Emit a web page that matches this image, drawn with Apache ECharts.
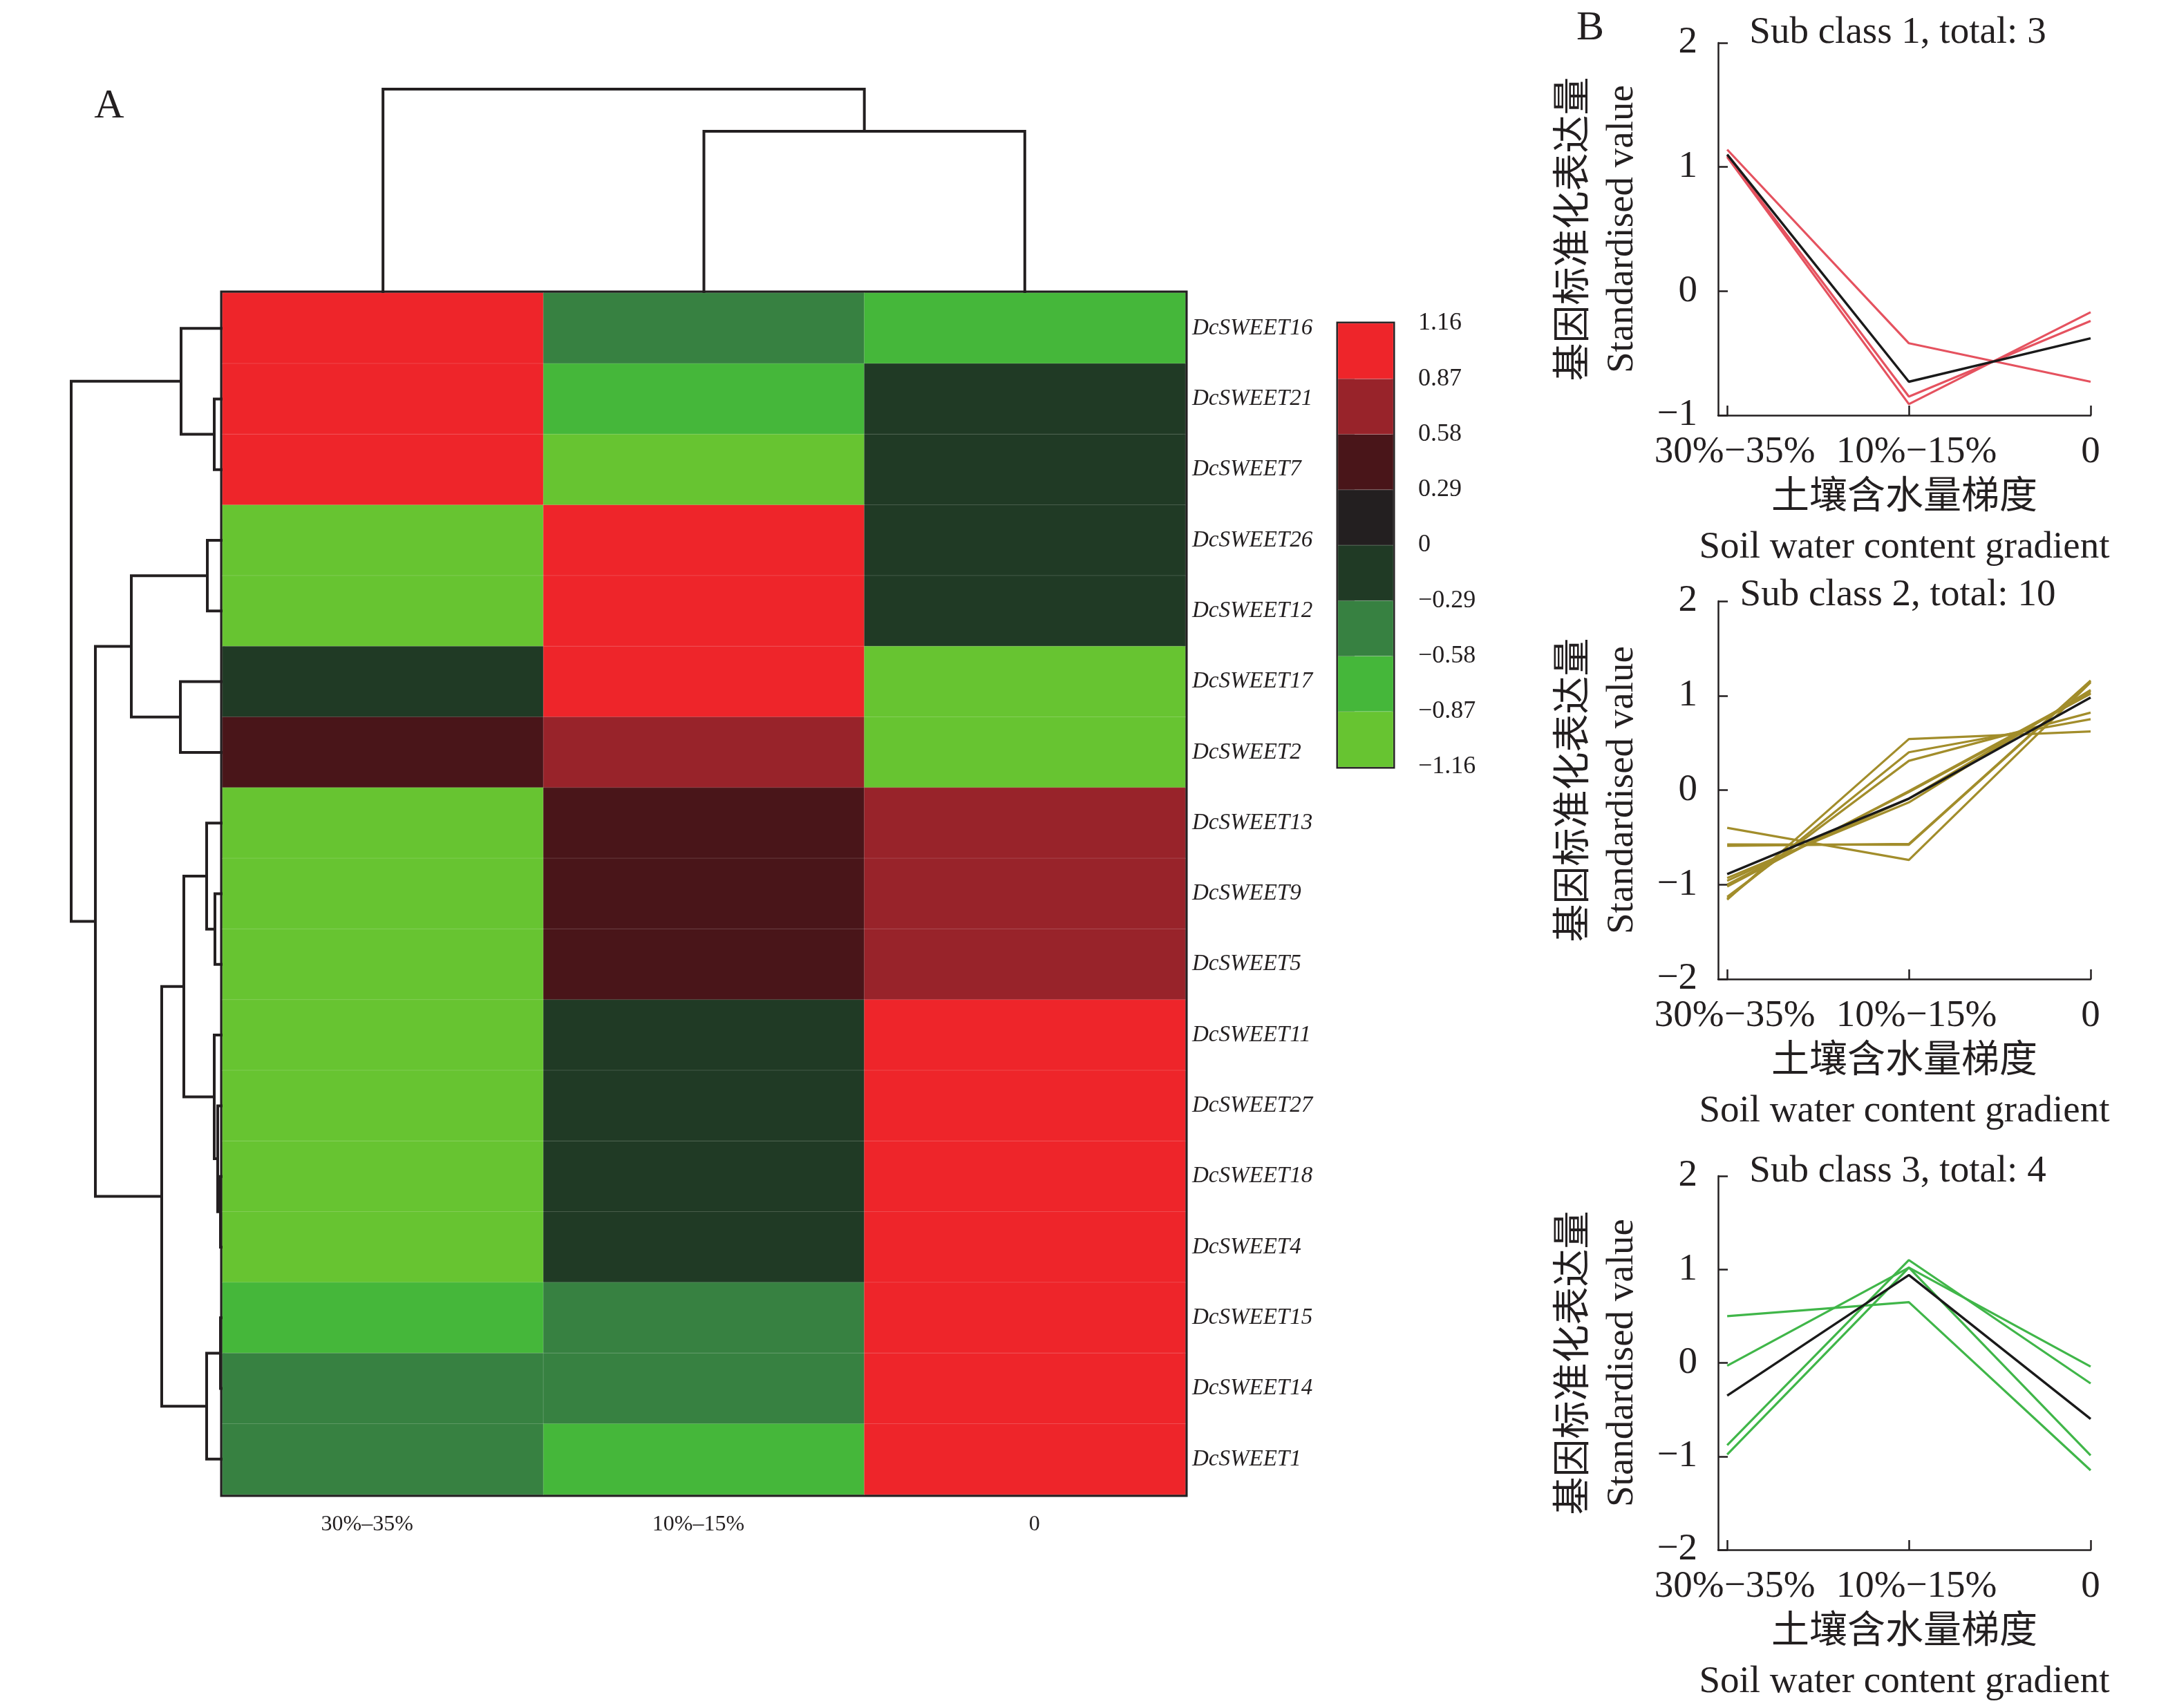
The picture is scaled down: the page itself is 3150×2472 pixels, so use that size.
<!DOCTYPE html>
<html><head><meta charset="utf-8">
<script src="https://cdn.jsdelivr.net/npm/echarts@6/dist/echarts.min.js"></script>
<style>html,body{margin:0;padding:0;background:#fff}#c{width:3150px;height:2472px}</style>
</head><body><div id="c"></div>
<script>
// ---------------- data ----------------
const conditions = ['30%–35%', '10%–15%', '0'];
const lineConditions = ['30%−35%', '10%−15%', '0'];
const genes = ['DcSWEET16','DcSWEET21','DcSWEET7','DcSWEET26','DcSWEET12','DcSWEET17','DcSWEET2',
  'DcSWEET13','DcSWEET9','DcSWEET5','DcSWEET11','DcSWEET27','DcSWEET18','DcSWEET4','DcSWEET15','DcSWEET14','DcSWEET1'];
// standardised expression, one array per soil-water condition (same order as genes)
const val30_35 = [1.14, 1.09, 1.08, -0.98, -0.88, -0.03, 0.50, -1.16, -1.15, -1.13, -1.02, -1.00, -0.96, -0.93, -0.59, -0.575, -0.40];
const val10_15 = [-0.42, -0.85, -0.91, 1.02, 1.10, 1.02, 0.65, 0.54, 0.40, 0.31, -0.01, -0.02, -0.09, -0.13, -0.57, -0.578, -0.74];
const val0     = [-0.73, -0.24, -0.17, -0.04, -0.22, -0.99, -1.15, 0.62, 0.75, 0.82, 1.03, 1.02, 1.05, 1.06, 1.16, 1.153, 1.14];
// gene dendrogram (linkage: [childA, childB, distance]; ids >= 17 are earlier merges)
const rowMerges = [[1,2,12],[0,17,60],[3,4,22],[5,6,61],[19,20,132],[8,9,11],[7,22,23],[12,13,3],
  [11,24,7],[10,25,12],[23,26,56],[14,15,3],[28,16,23],[27,29,88],[21,30,184],[18,31,219]];
// condition dendrogram
const colMerges = [[1,2,234],[0,3,295]];
// colour scale
const breaks = [-1.16, -0.87, -0.58, -0.29, 0, 0.29, 0.58, 0.87, 1.16];
const binColors = ['#67C431','#45B73A','#378141','#203A25','#231F20','#491519','#98232A','#EE252A'];
// sub classes
const sub1Genes = ['DcSWEET16','DcSWEET21','DcSWEET7'];
const sub2Genes = ['DcSWEET13','DcSWEET9','DcSWEET5','DcSWEET11','DcSWEET27','DcSWEET18','DcSWEET4','DcSWEET15','DcSWEET14','DcSWEET1'];
const sub3Genes = ['DcSWEET26','DcSWEET12','DcSWEET17','DcSWEET2'];
const sub1Mean = [1.10, -0.73, -0.38];
const sub2Mean = [-0.89, -0.09, 0.98];
const sub3Mean = [-0.35, 0.94, -0.60];
const subTitles = ['Sub class 1, total: 3', 'Sub class 2, total: 10', 'Sub class 3, total: 4'];

// ---------------- styles ----------------
const INK = '#231F20';
const SERIF = "'Liberation Serif','Times New Roman','Noto Sans CJK SC',serif";
const subColors = ['#E5525F', '#A28D2B', '#40B649'];

function dendroNodes(merges, nLeaves) {
  const nodes = [];
  for (let i = 0; i < nLeaves; i++) nodes.push({p: i + 0.5, h: 0});
  merges.forEach(m => nodes.push({p: (nodes[m[0]].p + nodes[m[1]].p) / 2, h: m[2]}));
  return nodes;
}
const rowNodes = dendroNodes(rowMerges, genes.length);
const colNodes = dendroNodes(colMerges, conditions.length);

function dendroSeries(merges, nodes, xi, yi, horizontal) {
  return {
    type: 'custom', xAxisIndex: xi, yAxisIndex: yi, silent: true, clip: false,
    data: merges.map((m, i) => [i, m[2]]),
    renderItem: function (params, api) {
      const m = merges[params.dataIndex];
      const a = nodes[m[0]], b = nodes[m[1]];
      const pt = horizontal ? (h, p) => api.coord([h, p]) : (h, p) => api.coord([p, h]);
      return {
        type: 'polyline',
        shape: {points: [pt(a.h, a.p), pt(m[2], a.p), pt(m[2], b.p), pt(b.h, b.p)]},
        style: {stroke: INK, lineWidth: 4, fill: null}
      };
    }
  };
}

const heatData = [];
genes.forEach((g, r) => {
  heatData.push([0, r, val30_35[r]]);
  heatData.push([1, r, val10_15[r]]);
  heatData.push([2, r, val0[r]]);
});

const pieces = binColors.map((c, i) => {
  const p = {color: c};
  if (i > 0) p.gte = breaks[i];
  if (i < binColors.length - 1) p.lt = breaks[i + 1];
  return p;
});

function fmtMinus(v) { return String(v).replace('-', '−'); }

const bGrids = [
  {left: 2486, top: 62, width: 539, height: 539},
  {left: 2486, top: 870, width: 539, height: 547},
  {left: 2486, top: 1702, width: 539, height: 551}
];
const bYMin = [-1, -2, -2];
const subGeneLists = [sub1Genes, sub2Genes, sub3Genes];
const subMeans = [sub1Mean, sub2Mean, sub3Mean];

const grids = [
  {left: 322, top: 424, width: 1393, height: 1739, show: true, borderColor: INK, borderWidth: 7, backgroundColor: 'transparent'},
  {left: 103, top: 424, width: 219, height: 1739},
  {left: 322, top: 129, width: 1393, height: 295},
  {left: 1936, top: 468, width: 80, height: 642, show: true, borderColor: INK, borderWidth: 5, backgroundColor: 'transparent'}
].concat(bGrids);

const colLabelStyle = {fontFamily: SERIF, fontSize: 32, color: INK};
const xAxes = [
  {type: 'category', gridIndex: 0, data: conditions, axisLine: {show: false}, axisTick: {show: false},
   axisLabel: {fontFamily: SERIF, fontSize: 32, color: INK, margin: 28,
     formatter: (v, i) => '{c' + i + '|' + v + '}',
     rich: {
       c0: Object.assign({padding: [0, 46, 0, 0]}, colLabelStyle),
       c1: Object.assign({padding: [0, 16, 0, 0]}, colLabelStyle),
       c2: Object.assign({padding: [0, 0, 0, 28]}, colLabelStyle)
     }}},
  {type: 'value', gridIndex: 1, min: 0, max: 219, inverse: true, show: false},
  {type: 'value', gridIndex: 2, min: 0, max: 3, show: false},
  {type: 'value', gridIndex: 3, min: 0, max: 1, show: false}
];
const yAxes = [
  {type: 'category', gridIndex: 0, data: genes, inverse: true, position: 'right', axisLine: {show: false}, axisTick: {show: false},
   axisLabel: {fontFamily: SERIF, fontStyle: 'italic', fontSize: 33, color: INK, margin: 10}},
  {type: 'value', gridIndex: 1, min: 0, max: 17, inverse: true, show: false},
  {type: 'value', gridIndex: 2, min: 0, max: 295, show: false},
  {type: 'value', gridIndex: 3, min: -1.16, max: 1.16, position: 'right', splitLine: {show: false},
   axisLine: {show: false},
   axisTick: {show: true, length: 24, lineStyle: {color: INK, width: 2.5}, customValues: breaks},
   axisLabel: {fontFamily: SERIF, fontSize: 36, color: INK, margin: 36, customValues: breaks,
     formatter: v => fmtMinus(Math.abs(v) < 1e-9 ? '0' : v.toFixed(2))}}
];
bGrids.forEach((g, k) => {
  xAxes.push({
    type: 'value', gridIndex: 4 + k, min: -0.05, max: 2, splitLine: {show: false},
    axisLine: {onZero: false, lineStyle: {color: INK, width: 2.5}},
    axisTick: {inside: true, length: 14, lineStyle: {color: INK, width: 2.5}, customValues: [0, 1, 2]},
    axisLabel: {fontFamily: SERIF, fontSize: 55, color: INK, margin: 26, customValues: [0, 1, 2],
      formatter: v => { const i = Math.round(v); return i < 2 ? '{s|' + lineConditions[i] + '}' : lineConditions[i]; },
      rich: {s: {fontFamily: SERIF, fontSize: 55, color: INK, padding: [0, 0, 0, 22]}}},
    name: '土壤含水量梯度\nSoil water content gradient', nameLocation: 'middle', nameGap: 84,
    nameTextStyle: {fontFamily: SERIF, fontSize: 55, color: INK, lineHeight: 72}
  });
  yAxes.push({
    type: 'value', gridIndex: 4 + k, min: bYMin[k], max: 2, interval: 1, splitLine: {show: false},
    axisLine: {show: true, onZero: false, lineStyle: {color: INK, width: 2.5}},
    axisTick: {show: true, inside: true, length: 14, lineStyle: {color: INK, width: 2.5}},
    axisLabel: {fontFamily: SERIF, fontSize: 55, color: INK, margin: 30, formatter: v => fmtMinus(v)},
    name: '基因标准化表达量\nStandardised value', nameLocation: 'middle', nameRotate: 90, nameGap: 104,
    nameTextStyle: {fontFamily: SERIF, fontSize: 55, color: INK, lineHeight: 69}
  });
});

const series = [
  {type: 'heatmap', xAxisIndex: 0, yAxisIndex: 0, data: heatData, silent: true,
   itemStyle: {borderColor: 'rgba(255,255,255,0.16)', borderWidth: 1}},
  dendroSeries(rowMerges, rowNodes, 1, 1, true),
  dendroSeries(colMerges, colNodes, 2, 2, false),
  {type: 'custom', xAxisIndex: 3, yAxisIndex: 3, silent: true, clip: false,
   data: binColors.map((c, i) => [i, breaks[i], breaks[i + 1]]),
   renderItem: function (params, api) {
     const i = params.dataIndex;
     const p0 = api.coord([0, breaks[i + 1]]), p1 = api.coord([1, breaks[i]]);
     return {type: 'rect', shape: {x: p0[0], y: p0[1], width: p1[0] - p0[0], height: p1[1] - p0[1]},
       style: {fill: binColors[i], stroke: 'rgba(255,255,255,0.18)', lineWidth: 1}};
   }}
];
subGeneLists.forEach((list, k) => {
  list.forEach(g => {
    const r = genes.indexOf(g);
    series.push({type: 'line', xAxisIndex: 4 + k, yAxisIndex: 4 + k, silent: true, showSymbol: false,
      data: [[0, val30_35[r]], [1, val10_15[r]], [2, val0[r]]],
      lineStyle: {color: subColors[k], width: 3.2}, itemStyle: {color: subColors[k]}});
  });
  series.push({type: 'line', xAxisIndex: 4 + k, yAxisIndex: 4 + k, silent: true, showSymbol: false, z: 5,
    data: subMeans[k].map((v, i) => [i, v]),
    lineStyle: {color: '#1A1A1A', width: 3.5}, itemStyle: {color: '#1A1A1A'}});
});

const titles = [
  {text: 'A', left: 153, top: 119, textAlign: 'center', textStyle: {fontFamily: SERIF, fontSize: 60, fontWeight: 'normal', color: INK, lineHeight: 60}},
  {text: 'B', left: 2296, top: 6, textAlign: 'center', textStyle: {fontFamily: SERIF, fontSize: 60, fontWeight: 'normal', color: INK, lineHeight: 60}}
];
const titleCenters = [48, 862, 1696];
subTitles.forEach((t, k) => titles.push({text: t, left: 2746, top: titleCenters[k] - 28, textAlign: 'center', padding: 0,
  textStyle: {fontFamily: SERIF, fontSize: 55, fontWeight: 'normal', color: INK, lineHeight: 55}}));

const chart = echarts.init(document.getElementById('c'), null, {renderer: 'canvas'});
chart.setOption({
  backgroundColor: '#fff',
  animation: false,
  title: titles,
  grid: grids,
  xAxis: xAxes,
  yAxis: yAxes,
  visualMap: {type: 'piecewise', show: false, seriesIndex: 0, dimension: 2, pieces: pieces},
  series: series
});
</script></body></html>
